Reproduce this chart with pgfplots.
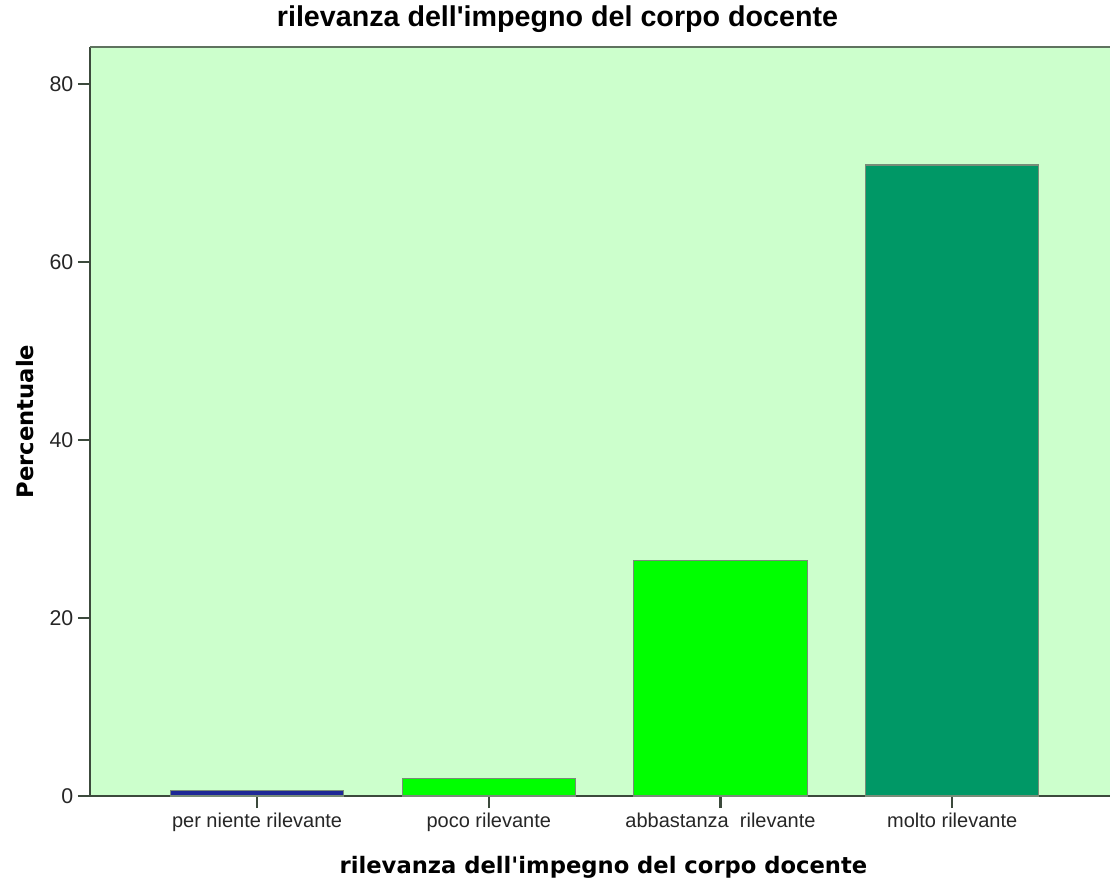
\documentclass[border=0pt]{standalone}
\usepackage{pgfplots}
\pgfplotsset{compat=1.18}
\usepackage{fontspec}
\setmainfont{Liberation Sans}
\newfontfamily\dv{DejaVu Sans}
\definecolor{bgc}{RGB}{204,255,204}
\definecolor{axc}{RGB}{60,74,60}
\definecolor{topc}{RGB}{95,115,95}
\definecolor{edgec}{RGB}{120,140,120}
\definecolor{c1}{RGB}{30,40,150}
\definecolor{c2}{RGB}{0,255,0}
\definecolor{c4}{RGB}{0,152,102}
\begin{document}
\begin{tikzpicture}
\useasboundingbox (-67.5pt,-62.25pt) rectangle (765pt,597pt);
\begin{axis}[
  at={(0,0)}, anchor=south west, scale only axis,
  width=765pt, height=561.75pt,
  xmin=-0.721, xmax=3.681, ymin=0, ymax=84.16,
  ybar, bar width=0.747, bar shift=0pt,
  axis background/.style={fill=bgc},
  axis y line*=left, axis x line*=bottom,
  axis line style={draw=axc, line width=2pt},
  ytick={0,20,40,60,80},
  xtick={0,1,2,3},
  xticklabels={per niente rilevante, poco rilevante, abbastanza\ \ rilevante, molto rilevante},
  tick align=outside, major tick length=9pt,
  tick style={draw=axc, line width=1.8pt},
  /pgf/number format/assume math mode=true,
  yticklabel style={font=\fontsize{16}{18}\selectfont, color=black!85},
  xticklabel style={font=\fontsize{15}{18}\selectfont, color=black!85},
  title={rilevanza dell\textquotesingle impegno del corpo docente},
  title style={at={(rel axis cs:0.4583,1)}, anchor=base, yshift=9pt, font=\bfseries\fontsize{21.5}{24}\selectfont},
  xlabel={rilevanza dell'impegno del corpo docente},
  xlabel style={at={(rel axis cs:0.5034,0)}, anchor=base, yshift=-57.75pt, font=\dv\bfseries\fontsize{17}{20}\selectfont},
  ylabel={Percentuale},
  ylabel style={at={(rel axis cs:-0.05588,0.5)}, rotate=0, anchor=base, font=\dv\bfseries\fontsize{17}{20}\selectfont},
]
\addplot[fill=c1, draw=edgec, line width=0.8pt] coordinates {(0,0.6)};
\addplot[fill=c2, draw=edgec, line width=0.8pt] coordinates {(1,2.0)};
\addplot[fill=c2, draw=edgec, line width=0.8pt] coordinates {(2,26.5)};
\addplot[fill=c4, draw=edgec, line width=0.8pt] coordinates {(3,70.9)};
\draw[topc, line width=2pt] (rel axis cs:0,1) -- (rel axis cs:1,1);
\end{axis}
\end{tikzpicture}
\end{document}
